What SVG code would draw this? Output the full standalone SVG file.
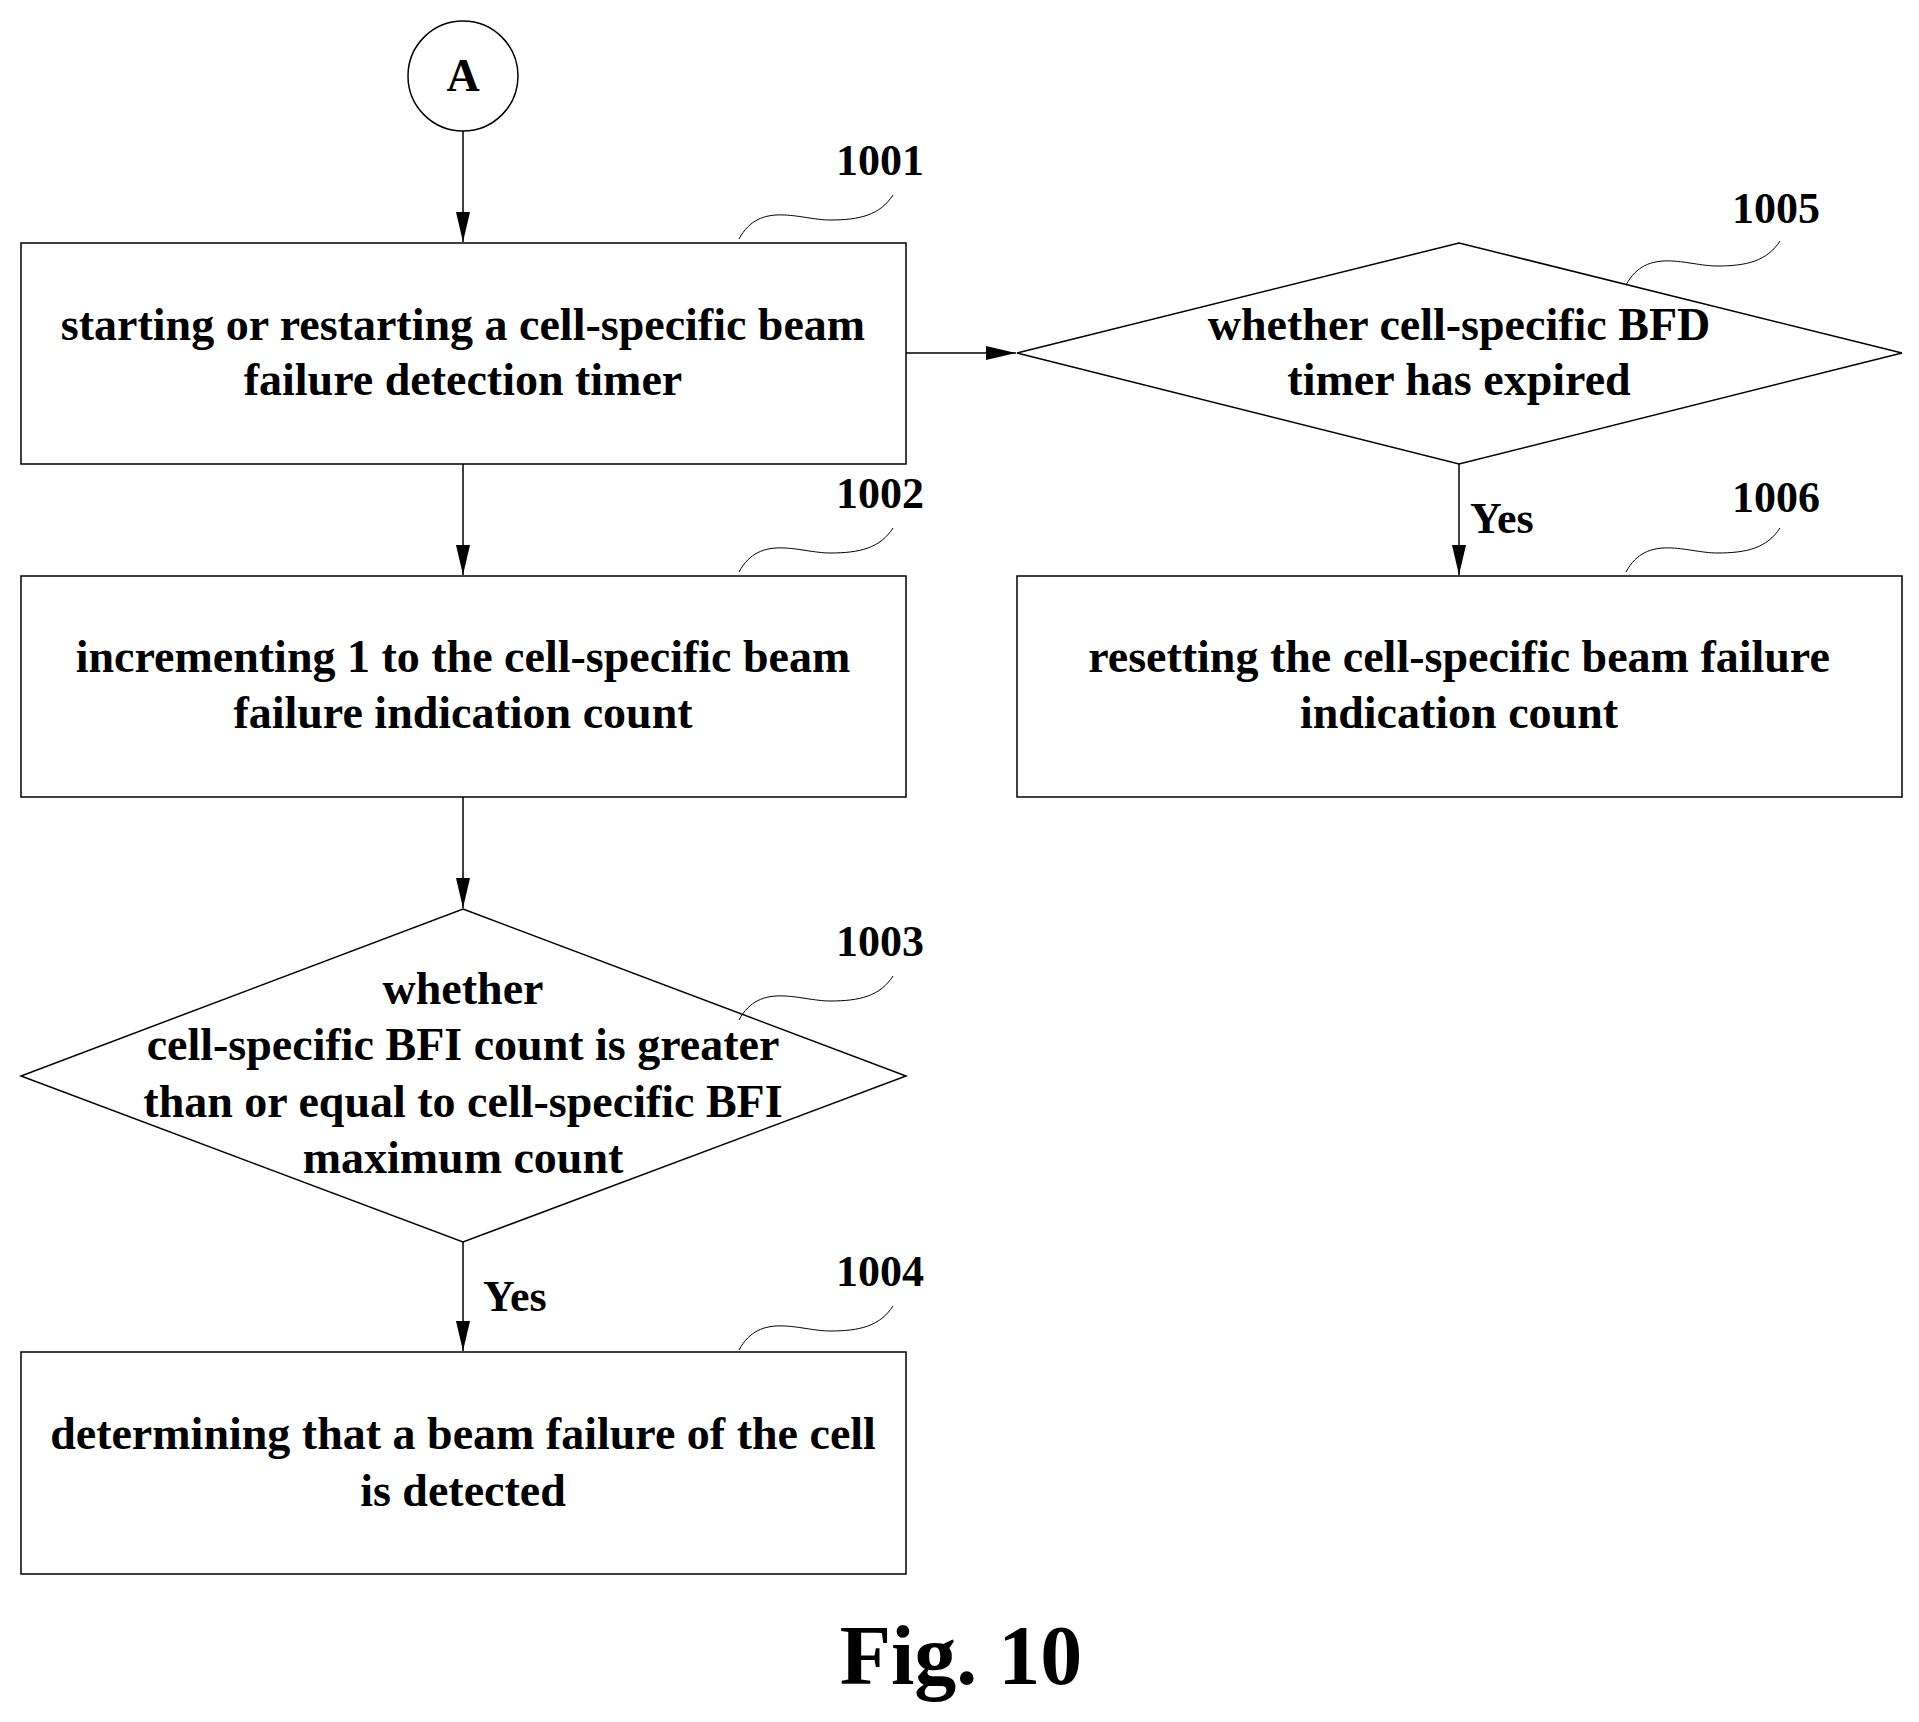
<svg xmlns="http://www.w3.org/2000/svg" width="1919" height="1722" viewBox="0 0 1919 1722">
<style>
.s{fill:#fff;stroke:#000;stroke-width:1.5}
.t{font-family:"Liberation Serif",serif;font-weight:bold;font-size:46px;text-anchor:middle;fill:#000}
.n{font-family:"Liberation Serif",serif;font-weight:bold;font-size:44px;fill:#000}
.c{fill:none;stroke:#000;stroke-width:1.5}
.q{fill:none;stroke:#000;stroke-width:1}
</style>
<defs><marker id="a" markerWidth="14" markerHeight="30" refX="14" refY="7" orient="auto" markerUnits="userSpaceOnUse"><path d="M0,0L30,7L0,14z" fill="#000"/></marker></defs>
<defs><marker id="b" markerWidth="30" markerHeight="14" refX="30" refY="7" orient="auto" markerUnits="userSpaceOnUse"><path d="M0,0L30,7L0,14z" fill="#000"/></marker></defs>
<rect width="1919" height="1722" fill="#fff"/>
<g id="connectors">
<line class="c" x1="463" y1="131" x2="463" y2="242" marker-end="url(#b)"/>
<line class="c" x1="463" y1="464" x2="463" y2="575" marker-end="url(#b)"/>
<line class="c" x1="463" y1="797" x2="463" y2="908" marker-end="url(#b)"/>
<line class="c" x1="463" y1="1242" x2="463" y2="1351" marker-end="url(#b)"/>
<line class="c" x1="906" y1="353" x2="1016" y2="353" marker-end="url(#b)"/>
<line class="c" x1="1459" y1="464" x2="1459" y2="575" marker-end="url(#b)"/>
<text class="n" x="483" y="1311">Yes</text>
<text class="n" x="1470" y="533">Yes</text>
</g>
<g id="A"><circle class="s" cx="463" cy="76" r="55"/><text class="t" x="463" y="91">A</text></g>
<g id="n1001"><rect class="s" x="21" y="243" width="885" height="221"/>
<text class="t" x="463" y="340">starting or restarting a cell-specific beam</text>
<text class="t" x="463" y="395">failure detection timer</text>
<path class="q" d="M739,239 C760,200 800,220 830,220 C860,220 880,215 893,195"/>
<text class="n" x="836" y="175">1001</text></g>
<g id="n1002"><rect class="s" x="21" y="576" width="885" height="221"/>
<text class="t" x="463" y="672">incrementing 1 to the cell-specific beam</text>
<text class="t" x="463" y="728">failure indication count</text>
<path class="q" d="M739,572 C760,533 800,553 830,553 C860,553 880,548 893,528"/>
<text class="n" x="836" y="508">1002</text></g>
<g id="n1003"><polygon class="s" points="463,909 906,1076 463,1242 21,1076"/>
<text class="t" x="463" y="1004">whether</text>
<text class="t" x="463" y="1060">cell-specific BFI count is greater</text>
<text class="t" x="463" y="1117">than or equal to cell-specific BFI</text>
<text class="t" x="463" y="1173">maximum count</text>
<path class="q" d="M739,1020 C760,981 800,1001 830,1001 C860,1001 880,996 893,976"/>
<text class="n" x="836" y="956">1003</text></g>
<g id="n1004"><rect class="s" x="21" y="1352" width="885" height="222"/>
<text class="t" x="463" y="1449">determining that a beam failure of the cell</text>
<text class="t" x="463" y="1506">is detected</text>
<path class="q" d="M739,1350 C760,1311 800,1331 830,1331 C860,1331 880,1326 893,1306"/>
<text class="n" x="836" y="1286">1004</text></g>
<g id="n1005"><polygon class="s" points="1459,243 1902,353 1459,464 1017,353"/>
<text class="t" x="1459" y="340">whether cell-specific BFD</text>
<text class="t" x="1459" y="395">timer has expired</text>
<path class="q" d="M1626,285 C1647,246 1687,266 1717,266 C1747,266 1767,261 1780,241"/>
<text class="n" x="1732" y="223">1005</text></g>
<g id="n1006"><rect class="s" x="1017" y="576" width="885" height="221"/>
<text class="t" x="1459" y="672">resetting the cell-specific beam failure</text>
<text class="t" x="1459" y="728">indication count</text>
<path class="q" d="M1626,572 C1647,533 1687,553 1717,553 C1747,553 1767,548 1780,528"/>
<text class="n" x="1732" y="512">1006</text></g>
<text class="t" x="961" y="1684" style="font-size:84px">Fig. 10</text>
</svg>
